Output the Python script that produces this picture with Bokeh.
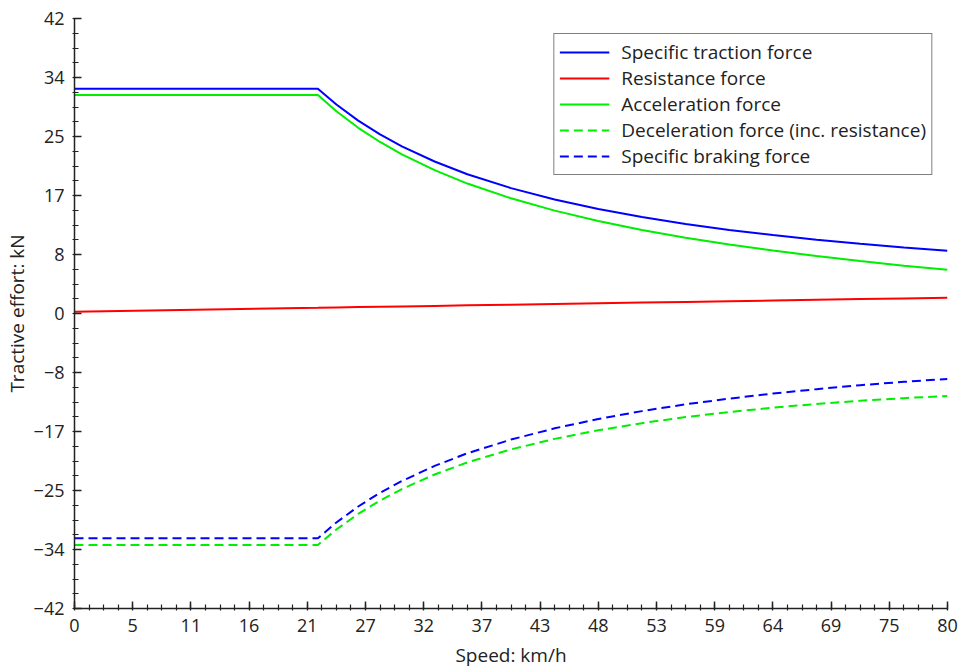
from bokeh.plotting import figure
from bokeh.models import FixedTicker, Range1d, Legend, LegendItem
from bokeh.embed import file_html
from bokeh.resources import INLINE

# Speed samples (km/h)
speed = [0, 22.3, 24, 26, 28, 30, 33, 36, 40, 44, 48, 52, 56, 60, 64, 68, 72, 76, 80]

traction = [32.0, 32.0, 29.75, 27.46, 25.5, 23.8, 21.64, 19.83, 17.85, 16.23, 14.88,
            13.73, 12.75, 11.9, 11.16, 10.5, 9.92, 9.39, 8.93]
resistance = [0.26, 0.81, 0.86, 0.91, 0.96, 1.01, 1.08, 1.16, 1.26, 1.36, 1.46,
              1.55, 1.65, 1.75, 1.85, 1.95, 2.05, 2.15, 2.25]
acceleration = [31.1, 31.1, 28.8, 26.44, 24.42, 22.66, 20.41, 18.5, 16.4, 14.65, 13.18,
                11.9, 10.8, 9.82, 8.96, 8.17, 7.47, 6.81, 6.23]
deceleration = [-32.95, -32.95, -30.75, -28.52, -26.63, -25.0, -22.92, -21.2, -19.35,
                -17.85, -16.62, -15.61, -14.74, -14.03, -13.41, -12.88, -12.42, -12.05, -11.73]
braking = [-32.0, -32.0, -29.75, -27.48, -25.53, -23.85, -21.7, -19.9, -17.95, -16.35,
           -15.02, -13.9, -12.93, -12.12, -11.4, -10.77, -10.2, -9.73, -9.31]

x_ticks = [0, 5.333, 10.667, 16, 21.333, 26.667, 32, 37.333, 42.667, 48, 53.333,
           58.667, 64, 69.333, 74.667, 80]
x_tick_labels = ["0", "5", "11", "16", "21", "27", "32", "37", "43", "48", "53",
                 "59", "64", "69", "75", "80"]
y_ticks = [-42, -33.6, -25.2, -16.8, -8.4, 0, 8.4, 16.8, 25.2, 33.6, 42]
y_tick_labels = ["\u221242", "\u221234", "\u221225", "\u221217", "\u22128", "0",
                 "8", "17", "25", "34", "42"]

FONT = "Open Sans"
AX = "#222222"

p = figure(width=964, height=670, output_backend="svg", toolbar_location=None,
           x_range=Range1d(0, 80), y_range=Range1d(-42, 42),
           min_border_left=74, min_border_right=17, min_border_top=18, min_border_bottom=61)
p.outline_line_color = None
p.xgrid.visible = False
p.ygrid.visible = False
p.background_fill_color = "white"

BLUE = "#0000ff"
RED = "#ff0000"
GREEN = "#00ee00"

r1 = p.line(speed, traction, line_color=BLUE, line_width=2)
r2 = p.line(speed, resistance, line_color=RED, line_width=2)
r3 = p.line(speed, acceleration, line_color=GREEN, line_width=2)
r4 = p.line(speed, deceleration, line_color=GREEN, line_width=2, line_dash="9 5")
r5 = p.line(speed, braking, line_color=BLUE, line_width=2, line_dash="9 5")

minor_x = [i * 80 / 60 for i in range(61)]
minor_y = [-42 + i * 2.1 for i in range(41)]

p.xaxis.ticker = FixedTicker(ticks=x_ticks, minor_ticks=minor_x)
p.yaxis.ticker = FixedTicker(ticks=y_ticks, minor_ticks=minor_y)
p.xaxis.major_label_overrides = {t: l for t, l in zip(x_ticks, x_tick_labels)}
p.yaxis.major_label_overrides = {t: l for t, l in zip(y_ticks, y_tick_labels)}

for ax in (p.xaxis, p.yaxis):
    ax.axis_line_color = AX
    ax.axis_line_width = 1.5
    ax.major_tick_line_color = AX
    ax.minor_tick_line_color = AX
    ax.major_tick_line_width = 1.5
    ax.minor_tick_line_width = 1.2
    ax.major_tick_in = 7
    ax.major_tick_out = 1
    ax.minor_tick_in = 4
    ax.minor_tick_out = 2
    ax.major_label_text_font = FONT
    ax.major_label_text_font_size = "18px"
    ax.major_label_text_color = AX
    ax.axis_label_text_font = FONT
    ax.axis_label_text_font_size = "19px"
    ax.axis_label_text_font_style = "normal"
    ax.axis_label_text_color = AX

p.xaxis.major_label_standoff = 8
p.yaxis.major_label_standoff = 8
p.xaxis.axis_label = "Speed: km/h"
p.yaxis.axis_label = "Tractive effort: kN"
p.xaxis.axis_label_standoff = 7
p.yaxis.axis_label_standoff = 1

legend = Legend(items=[
    LegendItem(label="Specific traction force", renderers=[r1]),
    LegendItem(label="Resistance force", renderers=[r2]),
    LegendItem(label="Acceleration force", renderers=[r3]),
    LegendItem(label="Deceleration force (inc. resistance)", renderers=[r4]),
    LegendItem(label="Specific braking force", renderers=[r5]),
], location="top_right")
legend.margin = 15
legend.padding = 5
legend.spacing = -1
legend.glyph_width = 50
legend.glyph_height = 20
legend.label_height = 20
legend.label_standoff = 12
legend.label_text_font = FONT
legend.label_text_font_size = "19px"
legend.label_text_color = AX
legend.border_line_color = "black"
legend.border_line_width = 1.5
legend.background_fill_color = "white"
legend.background_fill_alpha = 1.0
p.add_layout(legend)

open("out.html", "w").write(file_html(p, INLINE))
